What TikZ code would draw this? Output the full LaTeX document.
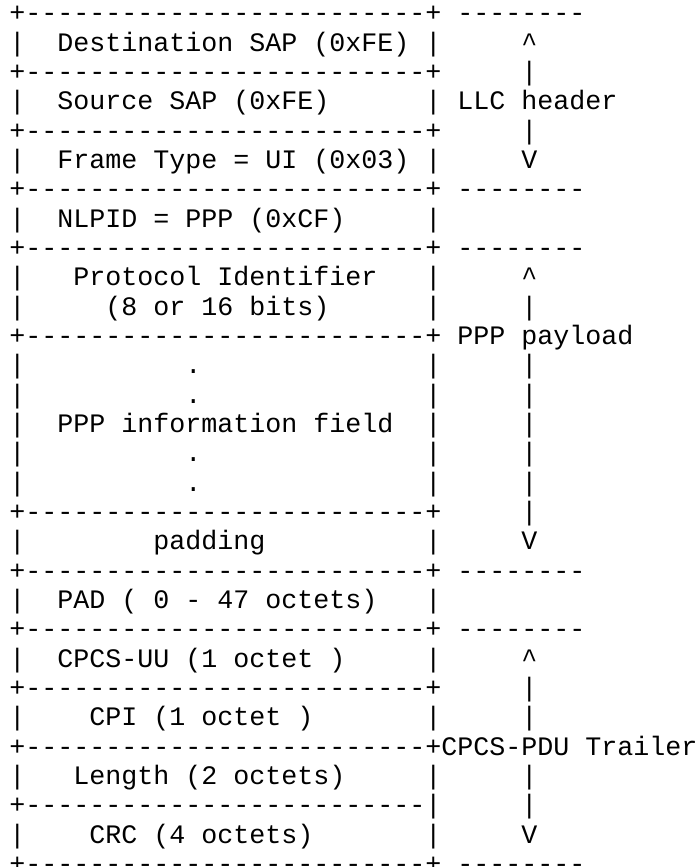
\documentclass[tikz,border=0pt]{standalone}
\usepackage{fontspec}
\setmonofont{Liberation Mono}
\newcommand\dfive{-----}
\newcommand\drow{+\dfive\dfive\dfive\dfive\dfive+}
\newcommand\drowbar{+\dfive\dfive\dfive\dfive\dfive|}
\newcommand\upc{\textasciicircum}
\tikzset{asc/.style={anchor=base west, inner sep=0pt, outer sep=0pt,
  font=\ttfamily\fontsize{26.67}{29.33}\selectfont}}
\begin{document}
\begin{tikzpicture}[x=1pt,y=1pt]
\fill[white] (0,0) rectangle (698,-867);
\useasboundingbox (0,0) rectangle (698,-867);
\def\lx{9.3}
\def\ly{22.0}
\node[asc] (l1)  at (\lx,{-(\ly+0*29.33)})  {\drow~--------};
\node[asc] (l2)  at (\lx,{-(\ly+1*29.33)})  {|~~Destination~SAP~(0xFE)~|~~~~~\upc};
\node[asc] (l3)  at (\lx,{-(\ly+2*29.33)})  {\drow~~~~~|};
\node[asc] (l4)  at (\lx,{-(\ly+3*29.33)})  {|~~Source~SAP~(0xFE)~~~~~~|~LLC~header};
\node[asc] (l5)  at (\lx,{-(\ly+4*29.33)})  {\drow~~~~~|};
\node[asc] (l6)  at (\lx,{-(\ly+5*29.33)})  {|~~Frame~Type~=~UI~(0x03)~|~~~~~V};
\node[asc] (l7)  at (\lx,{-(\ly+6*29.33)})  {\drow~--------};
\node[asc] (l8)  at (\lx,{-(\ly+7*29.33)})  {|~~NLPID~=~PPP~(0xCF)~~~~~|};
\node[asc] (l9)  at (\lx,{-(\ly+8*29.33)})  {\drow~--------};
\node[asc] (l10) at (\lx,{-(\ly+9*29.33)})  {|~~~Protocol~Identifier~~~|~~~~~\upc};
\node[asc] (l11) at (\lx,{-(\ly+10*29.33)}) {|~~~~~(8~or~16~bits)~~~~~~|~~~~~|};
\node[asc] (l12) at (\lx,{-(\ly+11*29.33)}) {\drow~PPP~payload};
\node[asc] (l13) at (\lx,{-(\ly+12*29.33)}) {|~~~~~~~~~~.~~~~~~~~~~~~~~|~~~~~|};
\node[asc] (l14) at (\lx,{-(\ly+13*29.33)}) {|~~~~~~~~~~.~~~~~~~~~~~~~~|~~~~~|};
\node[asc] (l15) at (\lx,{-(\ly+14*29.33)}) {|~~PPP~information~field~~|~~~~~|};
\node[asc] (l16) at (\lx,{-(\ly+15*29.33)}) {|~~~~~~~~~~.~~~~~~~~~~~~~~|~~~~~|};
\node[asc] (l17) at (\lx,{-(\ly+16*29.33)}) {|~~~~~~~~~~.~~~~~~~~~~~~~~|~~~~~|};
\node[asc] (l18) at (\lx,{-(\ly+17*29.33)}) {\drow~~~~~|};
\node[asc] (l19) at (\lx,{-(\ly+18*29.33)}) {|~~~~~~~~padding~~~~~~~~~~|~~~~~V};
\node[asc] (l20) at (\lx,{-(\ly+19*29.33)}) {\drow~--------};
\node[asc] (l21) at (\lx,{-(\ly+20*29.33)}) {|~~PAD~(~0~-~47~octets)~~~|};
\node[asc] (l22) at (\lx,{-(\ly+21*29.33)}) {\drow~--------};
\node[asc] (l23) at (\lx,{-(\ly+22*29.33)}) {|~~CPCS-UU~(1~octet~)~~~~~|~~~~~\upc};
\node[asc] (l24) at (\lx,{-(\ly+23*29.33)}) {\drow~~~~~|};
\node[asc] (l25) at (\lx,{-(\ly+24*29.33)}) {|~~~~CPI~(1~octet~)~~~~~~~|~~~~~|};
\node[asc] (l26) at (\lx,{-(\ly+25*29.33)}) {\drow CPCS-PDU~Trailer};
\node[asc] (l27) at (\lx,{-(\ly+26*29.33)}) {|~~~Length~(2~octets)~~~~~|~~~~~|};
\node[asc] (l28) at (\lx,{-(\ly+27*29.33)}) {\drowbar~~~~~|};
\node[asc] (l29) at (\lx,{-(\ly+28*29.33)}) {|~~~~CRC~(4~octets)~~~~~~~|~~~~~V};
\node[asc] (l30) at (\lx,{-(\ly+29*29.33)}) {\drow~--------};
\end{tikzpicture}
\end{document}
